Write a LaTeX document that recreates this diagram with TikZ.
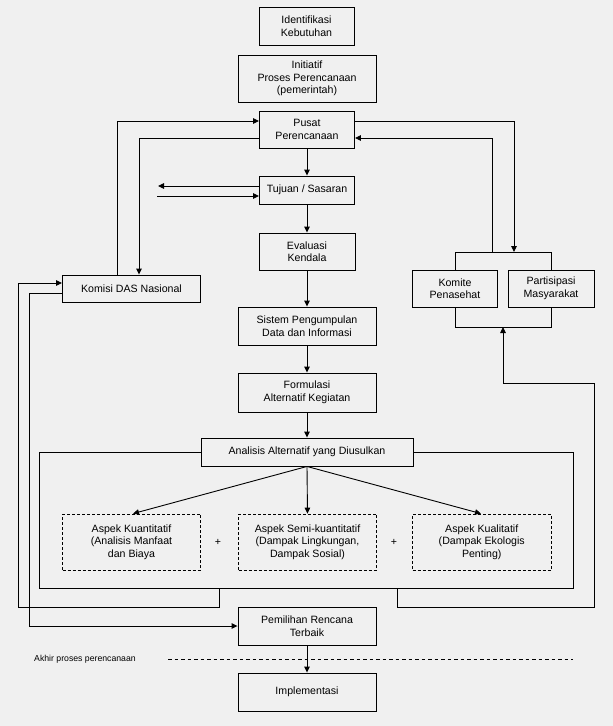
\documentclass[tikz,border=0pt]{standalone}
\usepackage{fontspec}
\setmainfont{Liberation Sans}
\usetikzlibrary{arrows.meta}
\definecolor{bg}{HTML}{F0F0F0}
\begin{document}
\begin{tikzpicture}[x=1pt,y=-1pt,
  every node/.style={font=\fontsize{10.6}{12.5}\selectfont},
  flowbox/.style={draw, line width=0.9pt, fill=bg, align=center, inner sep=0pt},
  dashbox/.style={draw, line width=0.8pt, dashed, dash pattern=on 3pt off 2pt, fill=bg, align=center, inner sep=0pt},
  conn/.style={line width=0.9pt},
  arr/.style={conn, -{Triangle[length=6pt,width=5.5pt]}}]
\fill[bg] (0,0) rectangle (613,726);
\useasboundingbox (0,0) rectangle (613,726);

% frame around analysis
\node[flowbox, minimum width=534pt, minimum height=136pt] (frame) at (306.5,520) {};

% main column
\node[flowbox, minimum width=95pt, minimum height=38pt] (ident) at (306.5,26) {Identifikasi\\Kebutuhan};
\node[flowbox, minimum width=138pt, minimum height=47pt] (init) at (307,78.5) {Initiatif\\Proses Perencanaan\\(pemerintah)};
\node[flowbox, minimum width=95pt, minimum height=37pt] (pusat) at (307,129.5) {Pusat\\Perencanaan};
\node[flowbox, minimum width=95pt, minimum height=28pt] (tujuan) at (307,190) {Tujuan / Sasaran};
\node[flowbox, minimum width=96pt, minimum height=37pt] (eval) at (307,251.5) {Evaluasi\\Kendala};
\node[flowbox, minimum width=138pt, minimum height=38pt] (sistem) at (307,326) {Sistem Pengumpulan\\Data dan Informasi};
\node[flowbox, minimum width=138pt, minimum height=39pt] (formulasi) at (307,392.5) {Formulasi\\Alternatif Kegiatan};
\node[flowbox, minimum width=212pt, minimum height=28pt] (analisis) at (307,452) {Analisis Alternatif yang Diusulkan};
\node[flowbox, minimum width=138pt, minimum height=38pt] (pemilihan) at (307,626) {Pemilihan Rencana\\Terbaik};
\node[flowbox, minimum width=138pt, minimum height=38pt] (impl) at (307,692) {Implementasi};

% side boxes
\node[flowbox, minimum width=138pt, minimum height=27pt] (komisi) at (131.5,288.5) {Komisi DAS Nasional};
\node[flowbox, minimum width=85pt, minimum height=37pt] (komite) at (455,288.5) {Komite\\Penasehat};
\node[flowbox, minimum width=86pt, minimum height=37pt] (partis) at (551,288.5) {Partisipasi\\Masyarakat};

% dashed aspect boxes
\node[dashbox, minimum width=138pt, minimum height=56pt] (kuan) at (131.5,542) {Aspek Kuantitatif\\(Analisis Manfaat\\dan Biaya};
\node[dashbox, minimum width=138pt, minimum height=56pt] (semi) at (307.5,542) {Aspek Semi-kuantitatif\\(Dampak Lingkungan,\\Dampak Sosial)};
\node[dashbox, minimum width=138.5pt, minimum height=56pt] (kual) at (481.75,542) {Aspek Kualitatif\\(Dampak Ekologis\\Penting)};
\node (plus1) at (218,542) {+};
\node (plus2) at (394,542) {+};

% end of planning
\node[anchor=west, inner sep=0pt, font=\fontsize{8.7}{10}\selectfont] (akhir) at (34,659) {Akhir proses perencanaan};
\coordinate (dl1) at (168,659);
\coordinate (dl2) at (573,659);
\draw[conn, line width=0.8pt, dashed, dash pattern=on 3.5pt off 3pt] (dl1) -- (dl2);

% main vertical flow
\draw[arr] (pusat) -- (tujuan);
\draw[arr] (tujuan) -- (eval);
\draw[arr] (eval) -- (sistem);
\draw[arr] (sistem) -- (formulasi);
\draw[arr] (formulasi) -- (analisis);
\draw[arr] (pemilihan) -- (impl);

% Tujuan side arrows
\coordinate (tl1) at (158,186);
\coordinate (tl2) at (157,196);
\draw[arr] (tujuan.west |- tl1) -- (tl1);
\draw[arr] (tl2) -- (tujuan.west |- tl2);

% Komisi loops
\draw[arr] (komisi.north -| 117,0) |- (pusat.west |- 0,121);
\draw[arr] (pusat.west |- 0,138) -| (komisi.north -| 139,0);
\draw[arr] (frame.south -| 219.7,0) |- (18.4,607) |- (komisi.west |- 0,283);
\draw[arr] (komisi.west |- 0,293) -| (29.3,626) -- (pemilihan.west);

% right side: Komite / Partisipasi brackets
\coordinate (bt) at (514,252);
\draw[conn] (komite.north) -- (455,252) -- (551,252) -- (partis.north);
\draw[conn] (komite.south) -- (455,327) -- (551,327) -- (partis.south);
\draw[arr] (pusat.east |- 0,121) -| (bt);
\draw[arr] (492,252) |- (pusat.east |- 0,138);
\coordinate (bb) at (503,327);
\draw[arr] (frame.south -| 397.6,0) |- (594,607) |- (503,383) -- (bb);

% analysis fan-out
\draw[arr] (analisis.south) -- (kuan.north -| 133,0);
\draw[arr] (analisis.south) -- (semi.north);
\draw[arr] (analisis.south) -- (kual.north -| 481,0);
\end{tikzpicture}
\end{document}
